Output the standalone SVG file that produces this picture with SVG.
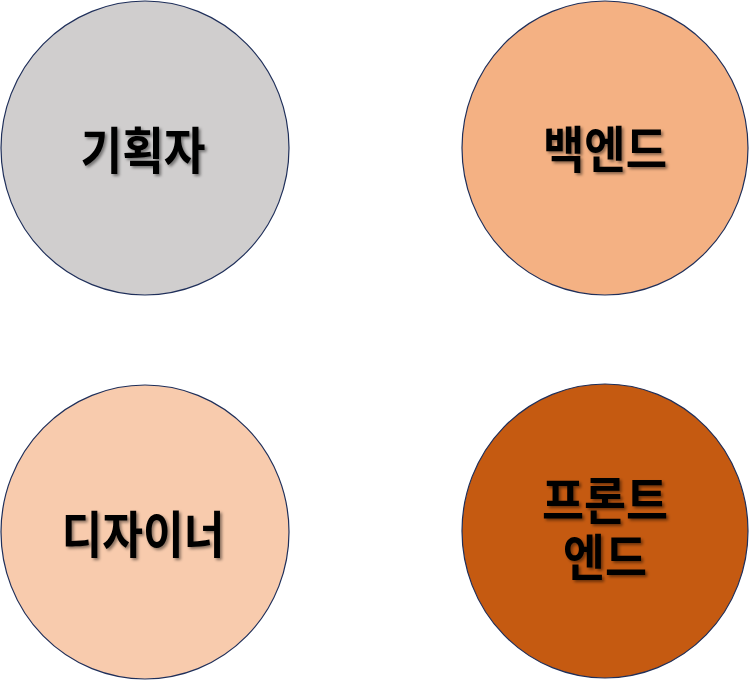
<svg xmlns="http://www.w3.org/2000/svg" width="750" height="681" viewBox="0 0 750 681">
<style>
.c{stroke:#1F2F5A;stroke-width:1.2}
.t{font-family:"Noto Sans CJK KR","Noto Sans",sans-serif;font-weight:700;font-size:50px;fill:#000;text-anchor:middle;filter:url(#sh)}
</style>
<defs>
<filter id="sh" x="-10%" y="-20%" width="130%" height="150%">
<feDropShadow dx="2" dy="2" stdDeviation="1.5" flood-color="#000" flood-opacity="0.45"/>
</filter>
</defs>
<rect width="750" height="681" fill="#fff"/>
<g id="planner">
<ellipse class="c" cx="145" cy="148" rx="144" ry="147" fill="#D0CECE"/>
<text class="t" x="143" y="169" textLength="125" lengthAdjust="spacingAndGlyphs">기획자</text>
</g>
<g id="backend">
<ellipse class="c" cx="605" cy="148" rx="143" ry="147" fill="#F4B183"/>
<text class="t" x="605" y="168" textLength="124" lengthAdjust="spacingAndGlyphs">백엔드</text>
</g>
<g id="designer">
<ellipse class="c" cx="145" cy="532" rx="144" ry="147" fill="#F8CBAD"/>
<text class="t" x="143" y="553" textLength="163" lengthAdjust="spacingAndGlyphs">디자이너</text>
</g>
<g id="frontend">
<ellipse class="c" cx="605" cy="531" rx="143" ry="147" fill="#C55A11"/>
<text class="t"><tspan x="605" y="519" textLength="126" lengthAdjust="spacingAndGlyphs">프론트</tspan><tspan x="605" y="576" textLength="84" lengthAdjust="spacingAndGlyphs">엔드</tspan></text>
</g>
<g id="connectors"/>
</svg>
